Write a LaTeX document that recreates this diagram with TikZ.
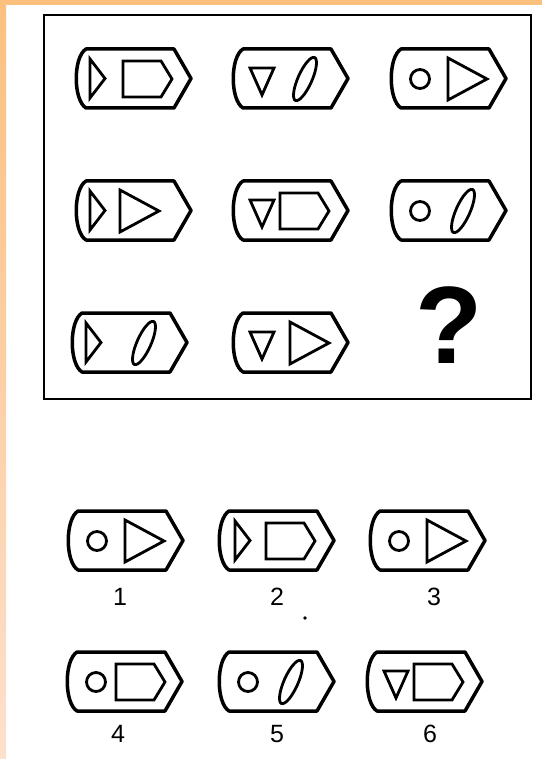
\documentclass[tikz,border=0pt]{standalone}
\usepackage{fontspec}
\setmainfont{Liberation Sans}
\begin{document}
\begin{tikzpicture}[x=1pt,y=-1pt]
\definecolor{bandtop}{HTML}{FBC07E}
\definecolor{bandbot}{HTML}{FDE0CD}
\tikzset{
  outer/.style={line width=3.5pt, line join=round},
  inner/.style={line width=2.8pt, line join=miter, miter limit=4},
  pics/cell/.style={code={\draw[outer] (10,0) -- (98,0) -- (115,29.5) -- (98,59) -- (10,59) .. controls (-3,51) and (-3,8) .. (10,0) -- cycle;}},
  pics/stri/.style={code={\draw[inner] (14,10) -- (29,29.5) -- (14,49) -- cycle;}},
  pics/dtri/.style={code={\draw[inner] (17,19) -- (41,19) -- (29,46) -- cycle;}},
  pics/circ/.style={code={\draw[inner] (29,30) circle[radius=9.5];}},
  pics/btri/.style={code={\draw[inner] (57,9) -- (96,30) -- (57,51) -- cycle;}},
  pics/pent/.style={code={\draw[inner] (47,12) -- (85,12) -- (96,30) -- (85,48) -- (47,48) -- cycle;}},
  pics/ell/.style={code={\draw[inner, rotate around={66:(72,30)}] (72,30) ellipse[x radius=23.5, y radius=7];}},
  lbl/.style={font=\fontsize{25}{25}\selectfont, inner sep=0pt}
}
% canvas and margins
\fill[white] (0,0) rectangle (542,759);
\useasboundingbox (0,0) rectangle (542,759);
\shade[top color=bandtop, bottom color=bandbot] (0,0) rectangle (6,759);
\fill[bandtop] (0,0) rectangle (542,5);
% frame
\draw[line width=2.2pt] (44,15) rectangle (531,399);
% grid row 1
\pic at (76,49) {cell}; \pic at (76,49) {stri}; \pic at (76,49) {pent};
\pic at (233,49) {cell}; \pic at (233,49) {dtri}; \pic at (233,49) {ell};
\pic at (391,49) {cell}; \pic at (391,49) {circ}; \pic at (391,49) {btri};
% grid row 2
\pic at (76,181) {cell}; \pic at (76,181) {stri}; \pic at (63,181) {btri};
\pic at (233,181) {cell}; \pic at (233,181) {dtri}; \pic at (233,181) {pent};
\pic at (391,181) {cell}; \pic at (391,181) {circ}; \pic at (391,181) {ell};
% grid row 3
\pic at (72,313) {cell}; \pic at (72,313) {stri}; \pic at (72,313) {ell};
\pic at (233,313) {cell}; \pic at (233,313) {dtri}; \pic at (233,313) {btri};
\node[font=\fontsize{110}{110}\bfseries\selectfont, inner sep=0pt] (q) at (449,325) {?};
% options row 1
\pic at (68,511) {cell}; \pic at (68,511) {circ}; \pic at (68,511) {btri};
\pic at (219,511) {cell}; \pic at (221,511) {stri}; \pic at (219,511) {pent};
\pic at (370,511) {cell}; \pic at (370,511) {circ}; \pic at (370,511) {btri};
\node[lbl] (l1) at (120,597) {1};
\node[lbl] (l2) at (277,597) {2};
\node[lbl] (l3) at (434,597) {3};
\fill (305,618) circle[radius=1.8];
% options row 2
\pic at (67,652) {cell}; \pic at (67,652) {circ}; \pic at (69,652) {pent};
\pic at (219,652) {cell}; \pic at (219,652) {circ}; \pic at (219,652) {ell};
\pic at (367,652) {cell}; \pic at (367,652) {dtri}; \pic at (367,652) {pent};
\node[lbl] (l4) at (118,734) {4};
\node[lbl] (l5) at (277,734) {5};
\node[lbl] (l6) at (430,734) {6};
\end{tikzpicture}
\end{document}
